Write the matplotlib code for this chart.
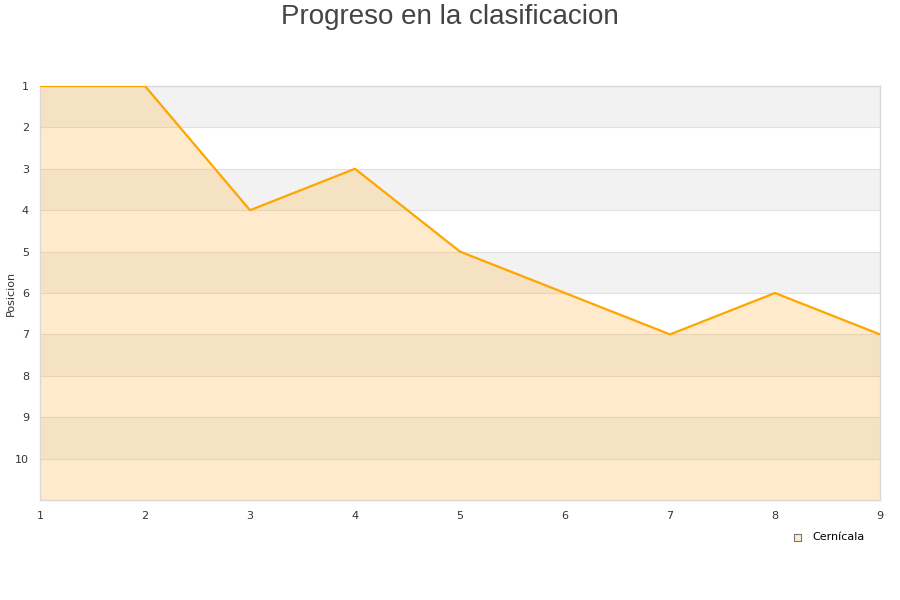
import matplotlib
matplotlib.use("Agg")
import matplotlib.pyplot as plt

jornadas = [1, 2, 3, 4, 5, 6, 7, 8, 9]
posiciones = [1, 1, 4, 3, 5, 6, 7, 6, 7]
y_ticks = [1, 2, 3, 4, 5, 6, 7, 8, 9, 10]
serie = "Cernícala"
titulo = "Progreso en la clasificacion"

fig = plt.figure(figsize=(9, 6), dpi=100)
ax = fig.add_axes([40/900, 100/600, 840/900, 414/600])

for k in range(1, 11, 2):
    ax.axhspan(k, k + 1, color="#f2f2f2", zorder=0, lw=0)
for k in y_ticks:
    ax.axhline(k, color="#e0e0e0", lw=0.8, zorder=1)

ax.fill_between(jornadas, posiciones, 11, color="#ffb333", alpha=0.25, lw=0, zorder=2)
ax.plot(jornadas, posiciones, color="#ffa500", lw=1.6, zorder=3)

ax.set_xlim(1, 9)
ax.set_ylim(11, 1)
ax.set_xticks(jornadas)
ax.set_yticks(y_ticks)
ax.tick_params(length=0, labelsize=8, colors="#333333", pad=8)
for s in ax.spines.values():
    s.set_color("#d8d8d8")
    s.set_linewidth(1)

fig.text(11/900, 1 - 293/600, "Posicion", rotation=90, ha="center", va="center",
         fontsize=8, color="#333333")

fig.text(0.5, 1 - 17/600, titulo, ha="center", va="center", fontsize=20,
         color="#444444", family=["Liberation Sans", "DejaVu Sans"])

fig.patches.append(plt.Rectangle((794/900, 1 - 541/600), 7/900, 7/600, transform=fig.transFigure,
                                 facecolor="#ffeccc", edgecolor="#777777", lw=0.8))
fig.text(812/900, 1 - 537/600, serie, ha="left", va="center", fontsize=8, color="#000000")

fig.savefig("out.png", dpi=100)
